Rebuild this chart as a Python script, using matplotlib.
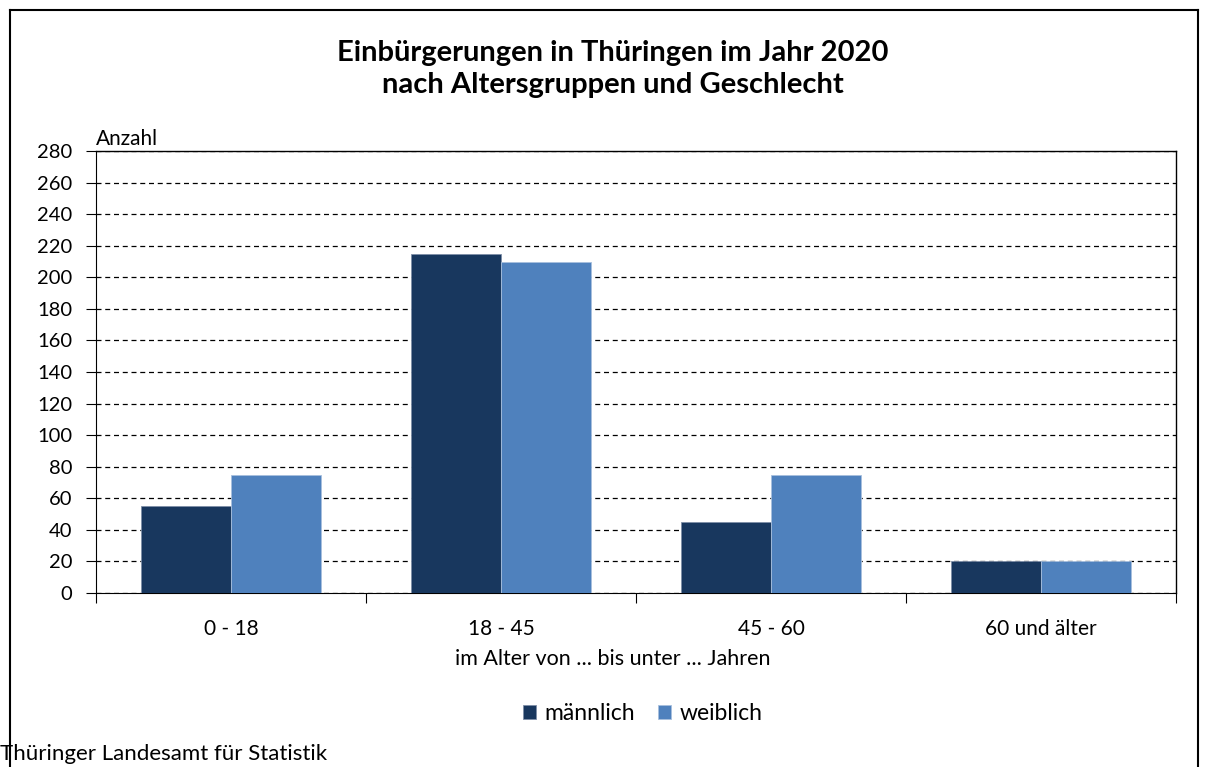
import matplotlib.pyplot as plt
import numpy as np
from matplotlib.lines import Line2D

plt.rcParams['font.family'] = ['Lato', 'DejaVu Sans']

# Daten
GRUPPEN = ['0 - 18', '18 - 45', '45 - 60', '60 und älter']
MAENNLICH = [55, 215, 45, 20]
WEIBLICH = [75, 210, 75, 20]

W, H = 1208, 767
fig = plt.figure(figsize=(W / 100, H / 100), dpi=100)
ax = fig.add_axes([96 / W, 1 - 593 / H, (1176 - 96) / W, (593 - 151) / H])

x = np.arange(len(GRUPPEN))
bw = 1 / 3
ax.bar(x - bw / 2, MAENNLICH, bw, color='#18375e', edgecolor='#7f8fa8', linewidth=0.6,
       label='männlich', zorder=3)
ax.bar(x + bw / 2, WEIBLICH, bw, color='#4f81bd', edgecolor='#a8c0de', linewidth=0.6,
       label='weiblich', zorder=3)

ax.set_xlim(-0.5, 3.5)
ax.set_ylim(0, 280)
ax.set_yticks(range(0, 281, 20))
ax.set_xticks(np.arange(-0.5, 3.6, 1))
ax.set_xticklabels([])
ax.set_xticks(x, minor=True)
ax.set_xticklabels(GRUPPEN, minor=True, fontsize=15)
ax.tick_params(axis='x', which='minor', length=0, pad=19)
ax.tick_params(axis='x', which='major', length=7, direction='out', color='black')
ax.tick_params(axis='y', length=7, labelsize=14.5, pad=10)
ax.yaxis.grid(True, linestyle=(0, (4, 3)), color='black', linewidth=0.9, zorder=0)

ax.spines['top'].set_linewidth(1)
ax.spines['right'].set_linewidth(1)

fig.text(613 / W, 1 - 659 / H, 'im Alter von ... bis unter ... Jahren', ha='center', va='center', fontsize=15.5)
ax.text(0, 1.005, 'Anzahl', transform=ax.transAxes, fontsize=15, va='bottom', ha='left')

fig.text(613 / W, 1 - 69 / H, 'Einbürgerungen in Thüringen im Jahr 2020\nnach Altersgruppen und Geschlecht',
         ha='center', va='center', fontsize=21, fontweight='bold', linespacing=1.3)

fig.legend(loc='center', bbox_to_anchor=(643 / W, 1 - 714 / H), ncol=2, frameon=False,
           fontsize=16.5, handlelength=0.55, handleheight=0.55, handletextpad=0.4, columnspacing=1.0)

fig.text(0 / W, 1 - 754 / H, 'Thüringer Landesamt für Statistik', ha='left', va='center', fontsize=16)

# Rahmen
fig.add_artist(Line2D([10 / W, 10 / W], [0, 1 - 10 / H], color='black', linewidth=1.5, transform=fig.transFigure))
fig.add_artist(Line2D([10 / W, 1198 / W], [1 - 10 / H, 1 - 10 / H], color='black', linewidth=1.5, transform=fig.transFigure))
fig.add_artist(Line2D([1198 / W, 1198 / W], [0, 1 - 10 / H], color='black', linewidth=1.5, transform=fig.transFigure))

fig.savefig('out.png', dpi=100)
